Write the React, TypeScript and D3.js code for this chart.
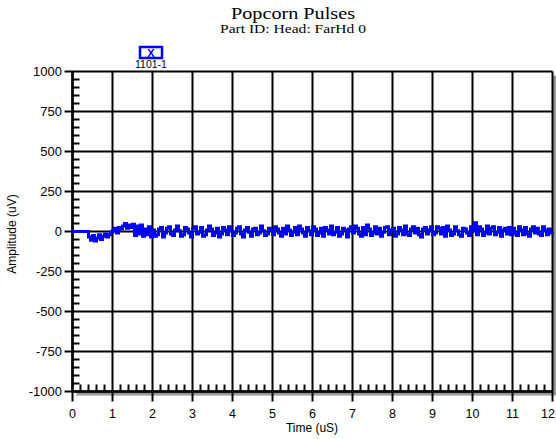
import * as d3 from "d3";

// time axis (uS) and amplitude axis (uV)
const xTicks = [0, 1, 2, 3, 4, 5, 6, 7, 8, 9, 10, 11, 12];
const yTicks = [-1000, -750, -500, -250, 0, 250, 500, 750, 1000];
const sampleStep = 0.05; // uS between samples

// pulse trace, one row per microsecond (20 samples each)
const trace = [
  0, 0, 0, 0, 0, 0, 0, 0, -35, -55, -25, -60, -40, -20, -50, -30, -15, -35, -20, -5,
  5, 20, -10, 25, 15, 35, 50, 20, 40, 25, 45, -25, 35, -15, 40, -30, 15, -20, 30, -35,
  10, -30, -20, 15, 25, -35, -10, 20, 30, -15, -25, 10, 35, 5, -30, -20, 25, 15, -10, -35,
  20, 30, -15, -5, 25, -30, -20, 10, 35, 15, -25, -10, 20, -35, -15, 25, 10, -20, 30, 5,
  -25, -10, 20, 30, -15, -35, 10, 25, -5, -30, 15, 20, -20, -10, 35, 5, -25, -15, 20, 10,
  -20, 30, 15, -10, -30, 20, -15, 35, 10, -25, -5, 25, -20, 35, 15, -10, -30, 25, 5, -20,
  30, 15, -25, -10, 20, -30, 25, 10, -15, 35, -20, -5, 25, -30, -15, 20, 10, -35, 15, 30,
  -10, 35, 20, -15, -30, 25, -20, 40, 15, -25, -10, 30, -15, 20, -30, -5, 25, 30, -20, 10,
  20, -30, -15, 25, 10, -20, 35, -15, -25, 15, 30, -10, 20, -20, -35, 15, 25, -15, 10, 30,
  -20, -10, 30, 20, -15, 25, -30, 35, 10, -25, -15, 30, 5, -20, -30, 20, 15, -10, -25, 30,
  5, 55, -20, 30, 15, -25, -10, 35, -15, 20, 30, -20, -5, 25, -30, 10, 20, -15, 25, -20,
  20, -15, -25, 30, 10, -20, 25, -15, -30, 15, 30, -10, 20, -15, -25, 30, 10, -20, 15, -10,
  -15,
];

const legendLabel = "1101-1";

const W = 556;
const H = 439;
const plot = { left: 72.5, right: 552.5, top: 71.5, bottom: 391.5 };
const sans = "Liberation Sans, Arial, sans-serif";
const serif = "Liberation Serif, Times New Roman, serif";

export default function App() {
  const x = d3.scaleLinear().domain([0, 12]).range([plot.left, plot.right]);
  const y = d3.scaleLinear().domain([-1000, 1000]).range([plot.bottom, plot.top]);

  const xMinor = d3.range(0, 12, 0.2).filter((v) => Math.abs(v - Math.round(v)) > 1e-6);
  const yMinor = d3.range(-1000, 1000, 50).filter((v) => v % 250 !== 0);

  const points = trace.map((v, i) => [i * sampleStep, v] as [number, number]);
  const line = d3
    .line<[number, number]>()
    .x((d) => x(d[0]))
    .y((d) => y(d[1]))
    .curve(d3.curveStepAfter);

  const pw = plot.right - plot.left;
  const ph = plot.bottom - plot.top;

  return (
    <svg width={W} height={H} style={{ position: "absolute", left: 0, top: 0, background: "#fff" }}>
      <text x={293} y={19} textAnchor="middle" fontFamily={serif} fontSize={16} fill="#000"
        textLength={124} lengthAdjust="spacingAndGlyphs">
        Popcorn Pulses
      </text>
      <text x={293} y={33} textAnchor="middle" fontFamily={serif} fontSize={11.5} fill="#000"
        textLength={146} lengthAdjust="spacingAndGlyphs">
        Part ID:  Head: FarHd 0
      </text>

      {/* legend */}
      <rect x={140} y={47} width={22} height={11} fill="#fff" stroke="#0000ff" strokeWidth={2.5} />
      <text x={151} y={56.5} textAnchor="middle" fontFamily={sans} fontSize={11} fontWeight="bold" fill="#0000ff">
        X
      </text>
      <text x={151} y={68} textAnchor="middle" fontFamily={sans} fontSize={10.5} fill="#000">
        {legendLabel}
      </text>

      {/* drop shadow + plot area */}
      <rect x={plot.left + 4} y={plot.top + 4} width={pw} height={ph} fill="#999" />
      <rect x={plot.left} y={plot.top} width={pw} height={ph} fill="#fff" />

      {/* grid */}
      {xTicks.map((t) => (
        <line key={"gx" + t} x1={x(t)} x2={x(t)} y1={plot.top} y2={plot.bottom} stroke="#000" strokeWidth={2} />
      ))}
      {yTicks.map((t) => (
        <line key={"gy" + t} x1={plot.left} x2={plot.right} y1={y(t)} y2={y(t)} stroke="#000" strokeWidth={2} />
      ))}

      {/* minor ticks */}
      {xMinor.map((t) => (
        <line key={"mx" + t} x1={x(t)} x2={x(t)} y1={plot.bottom} y2={plot.bottom - 7} stroke="#000" strokeWidth={2} />
      ))}
      {yMinor.map((t) => (
        <line key={"my" + t} x1={plot.left} x2={plot.left + 7} y1={y(t)} y2={y(t)} stroke="#000" strokeWidth={2} />
      ))}

      {/* axes */}
      <line x1={plot.left} x2={plot.left} y1={plot.top} y2={plot.bottom} stroke="#000" strokeWidth={2.5} />
      <line x1={plot.left} x2={plot.right} y1={plot.bottom} y2={plot.bottom} stroke="#000" strokeWidth={2.5} />
      {xTicks.map((t) => (
        <g key={"xt" + t}>
          <line x1={x(t)} x2={x(t)} y1={plot.bottom} y2={plot.bottom + 10} stroke="#000" strokeWidth={2} />
          <text x={Math.min(x(t), W - 8)} y={418} textAnchor="middle" fontFamily={sans} fontSize={12.5} fill="#000">
            {t}
          </text>
        </g>
      ))}
      {yTicks.map((t) => (
        <g key={"yt" + t}>
          <line x1={plot.left - 8} x2={plot.left} y1={y(t)} y2={y(t)} stroke="#000" strokeWidth={2} />
          <text x={62} y={y(t) + 4.5} textAnchor="end" fontFamily={sans} fontSize={13} fill="#000">
            {t}
          </text>
        </g>
      ))}

      {/* trace */}
      <path d={line(points) ?? ""} fill="none" stroke="#0000ff" strokeWidth={3} />

      <text x={312} y={432} textAnchor="middle" fontFamily={sans} fontSize={12} fill="#000">
        Time (uS)
      </text>
      <text
        transform={`translate(16,234) rotate(-90)`}
        textAnchor="middle"
        fontFamily={sans}
        fontSize={12}
        fill="#000"
      >
        Amplitude (uV)
      </text>
    </svg>
  );
}
